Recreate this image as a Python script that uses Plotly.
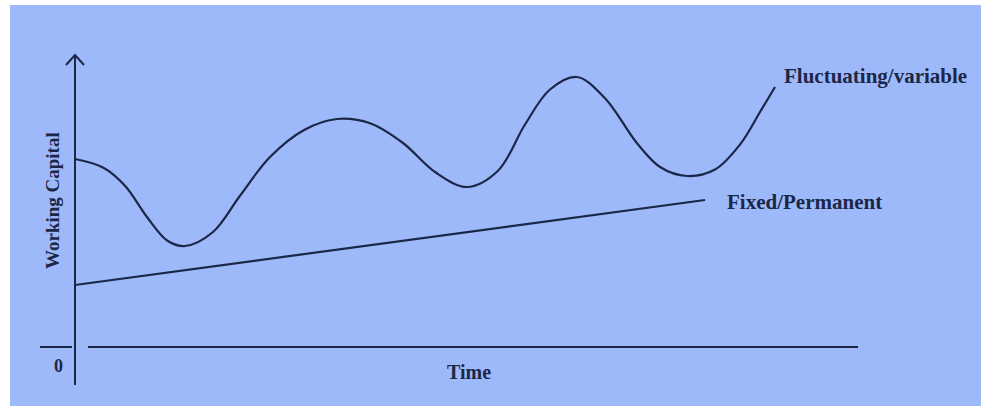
import plotly.graph_objects as go

# ---- data (time units, working-capital units) ----
fluct_t = [0.0, 0.56, 1.00, 1.45, 1.85, 2.20, 2.76, 3.30, 3.90, 4.60, 5.24, 5.90, 6.56, 7.20, 7.84,
           8.46, 9.00, 9.50, 10.04, 10.60, 11.24, 11.70, 12.24, 12.80, 13.30, 13.70, 14.00]
fluct_v = [7.52, 7.18, 6.45, 5.17, 4.25, 4.04, 4.60, 6.05, 7.60, 8.70, 9.12, 8.95, 8.16, 7.00, 6.40,
           7.05, 8.90, 10.30, 10.80, 9.95, 8.15, 7.20, 6.84, 7.10, 8.10, 9.40, 10.40]
fixed_t = [0.0, 12.6]
fixed_v = [2.48, 5.88]

series_labels = ["Fluctuating/variable", "Fixed/Permanent"]
x_title = "Time"
y_title = "Working Capital"
origin_label = "0"

# axis extents (data units)
Y_AXIS_BOTTOM, Y_AXIS_TOP = -1.52, 11.68
X_AXIS_LEFT, X_AXIS_GAP_L, X_AXIS_GAP_R, X_AXIS_RIGHT = -0.7, -0.06, 0.26, 15.66

INK = "#1c2747"
BLUE = "#9db9f9"
FONT = "Liberation Serif"

fig = go.Figure()
fig.add_trace(go.Scatter(x=fluct_t, y=fluct_v, mode="lines",
                         line=dict(color=INK, width=2.2, shape="spline", smoothing=1.0),
                         hoverinfo="skip", showlegend=False))
fig.add_trace(go.Scatter(x=fixed_t, y=fixed_v, mode="lines",
                         line=dict(color=INK, width=2.2),
                         hoverinfo="skip", showlegend=False))
# arrow caret at top of y axis
fig.add_trace(go.Scatter(x=[-0.18, 0, 0.18], y=[Y_AXIS_TOP - 0.4, Y_AXIS_TOP, Y_AXIS_TOP - 0.4],
                         mode="lines", line=dict(color=INK, width=2),
                         hoverinfo="skip", showlegend=False))

shapes = [
    dict(type="rect", xref="paper", yref="paper", x0=10 / 981, x1=1.02, y0=-0.02, y1=1 - 5 / 406,
         fillcolor=BLUE, line=dict(width=0), layer="below"),
    dict(type="line", xref="x", yref="y", x0=0, x1=0, y0=Y_AXIS_BOTTOM, y1=Y_AXIS_TOP,
         line=dict(color=INK, width=2)),
    dict(type="line", xref="x", yref="y", x0=X_AXIS_LEFT, x1=X_AXIS_GAP_L, y0=0, y1=0,
         line=dict(color=INK, width=2)),
    dict(type="line", xref="x", yref="y", x0=X_AXIS_GAP_R, x1=X_AXIS_RIGHT, y0=0, y1=0,
         line=dict(color=INK, width=2)),
]

tf = dict(family=FONT, size=21, color=INK, weight="bold")
annotations = [
    dict(x=fluct_t[-1] + 0.14, y=fluct_v[-1] + 0.44, text=series_labels[0], showarrow=False,
         xanchor="left", yanchor="middle", font=tf),
    dict(x=fixed_t[-1] + 0.4, y=fixed_v[-1] - 0.08, text=series_labels[1], showarrow=False,
         xanchor="left", yanchor="middle", font=tf),
    dict(x=7.88, y=-1.0, text=x_title, showarrow=False, xanchor="center", yanchor="middle",
         font=dict(family=FONT, size=20, color=INK, weight="bold")),
    dict(x=-0.34, y=-0.76, text=origin_label, showarrow=False, xanchor="center", yanchor="middle",
         font=dict(family=FONT, size=18, color=INK, weight="bold")),
    dict(x=-0.46, y=5.84, text=y_title, showarrow=False, textangle=-90,
         xanchor="center", yanchor="middle", font=dict(family=FONT, size=19, color=INK, weight="bold")),
]

fig.update_layout(
    width=981, height=406, autosize=False,
    margin=dict(l=0, r=0, t=0, b=0),
    paper_bgcolor="white", plot_bgcolor="rgba(0,0,0,0)",
    xaxis=dict(range=[-1.5, 18.12], visible=False, fixedrange=True),
    yaxis=dict(range=[-2.36, 13.88], visible=False, fixedrange=True),
    shapes=shapes, annotations=annotations, showlegend=False,
)
fig.write_html("out.html", config={"displayModeBar": False},
               post_script=("document.body.style.margin='0';document.body.style.overflow='hidden';"
                            "document.body.style.background='" + BLUE + "';"
                            "document.documentElement.style.background='" + BLUE + "';"))
